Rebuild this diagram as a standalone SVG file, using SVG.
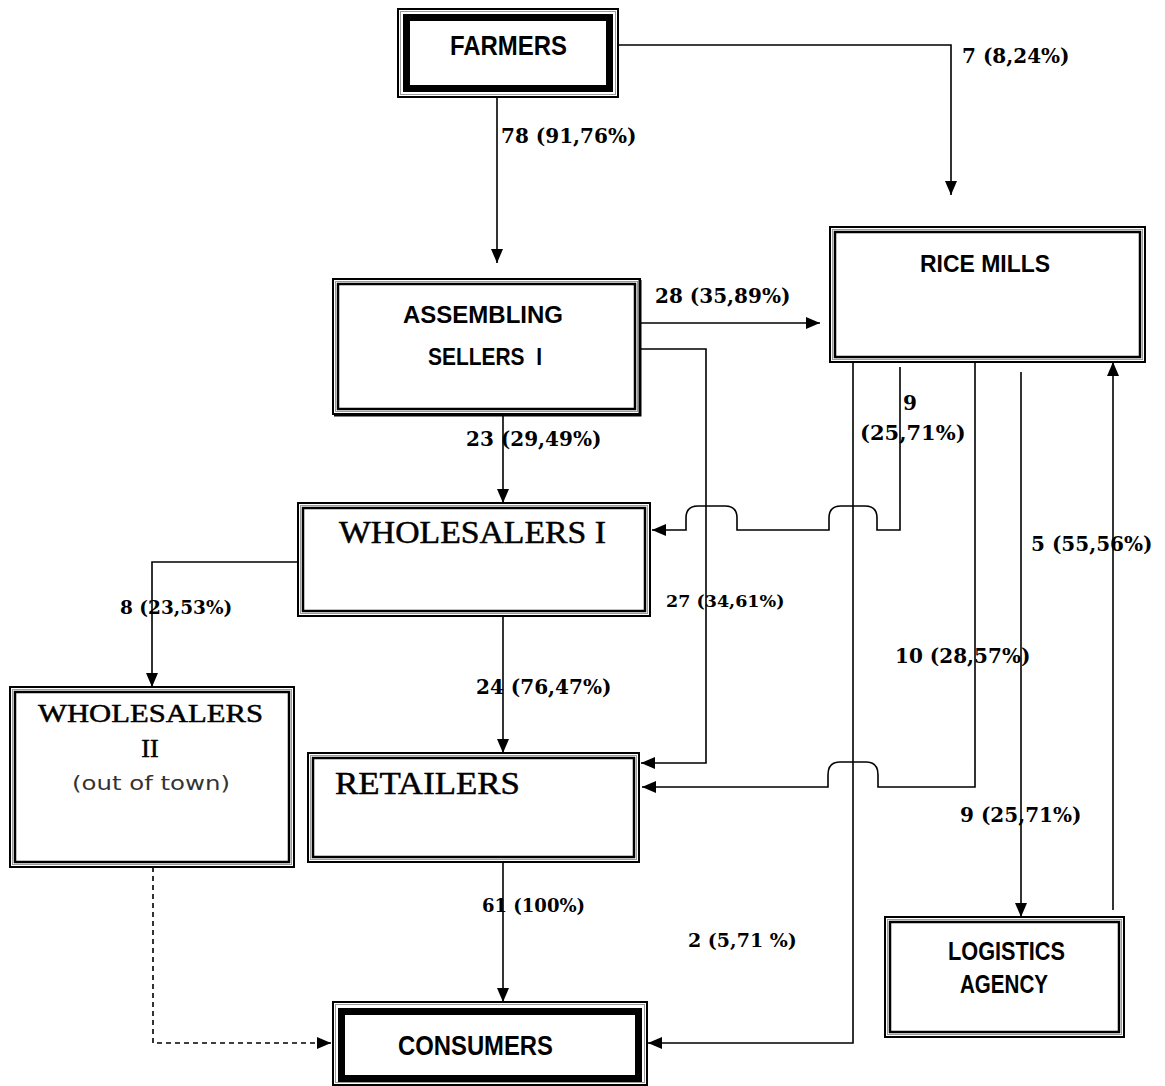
<svg xmlns="http://www.w3.org/2000/svg" width="1165" height="1086" viewBox="0 0 1165 1086">
<style>
.o{fill:#fff;stroke:#000;stroke-width:2}
.g{fill:none;stroke:#9a9a9a;stroke-width:1}
.i{fill:none;stroke:#000;stroke-width:2.5}
.ti{fill:none;stroke:#000;stroke-width:7}
.sb{font-family:"Liberation Sans",Arial,sans-serif;font-weight:bold;fill:#000}
.sr{font-family:"Liberation Serif","Times New Roman",serif;fill:#000;stroke:#000;stroke-width:0.5}
.lb{font-family:"DejaVu Serif",serif;font-weight:bold;font-size:20px;fill:#000}
.c{fill:none;stroke:#000;stroke-width:1.6}
.d{stroke-dasharray:5,4}
</style>
<defs>
<marker id="ah" markerUnits="userSpaceOnUse" markerWidth="15" markerHeight="13" refX="14" refY="6" orient="auto">
<path d="M0,0 L14,6 L0,12 z" fill="#000"/>
</marker>
</defs>
<rect width="1165" height="1086" fill="#fff"/>

<g id="connectors">
<path class="c" d="M497,97 V263" marker-end="url(#ah)"/>
<path class="c" d="M618,45 H951 V195" marker-end="url(#ah)"/>
<path class="c" d="M640,323 H820" marker-end="url(#ah)"/>
<path class="c" d="M640,349 H706 V763 H641" marker-end="url(#ah)"/>
<path class="c" d="M503,404 V503" marker-end="url(#ah)"/>
<path class="c" d="M900,367 V530 H877 V518 Q877,506 865,506 H841 Q829,506 829,518 V530 H737 V518 Q737,506 725,506 H698 Q686,506 686,518 V530 H652" marker-end="url(#ah)"/>
<path class="c" d="M975,362 V787 H878 V775 Q878,762 866,762 H840 Q828,762 828,775 V787 H642" marker-end="url(#ah)"/>
<path class="c" d="M853,362 V1043 H648" marker-end="url(#ah)"/>
<path class="c" d="M1021,372 V917" marker-end="url(#ah)"/>
<path class="c" d="M1113,910 V362" marker-end="url(#ah)"/>
<path class="c" d="M298,562 H152 V687" marker-end="url(#ah)"/>
<path class="c" d="M503,597 V753" marker-end="url(#ah)"/>
<path class="c" d="M503,857 V1002" marker-end="url(#ah)"/>
<path class="c d" d="M153,867 V1043 H331" marker-end="url(#ah)"/>
</g>

<g id="labels">
<text class="lb" x="501" y="143">78 (91,76%)</text>
<text class="lb" x="962" y="63">7 (8,24%)</text>
<text class="lb" x="655" y="303">28 (35,89%)</text>
<text class="lb" x="466" y="446">23 (29,49%)</text>
<text class="lb" x="903" y="410">9</text>
<text class="lb" x="860" y="440" style="font-size:21px">(25,71%)</text>
<text class="lb" x="666" y="607" style="font-size:17.5px">27 (34,61%)</text>
<text class="lb" x="1031" y="551">5 (55,56%)</text>
<text class="lb" x="120" y="614" style="font-size:18.5px">8 (23,53%)</text>
<text class="lb" x="895" y="663">10 (28,57%)</text>
<text class="lb" x="476" y="694">24 (76,47%)</text>
<text class="lb" x="960" y="822">9 (25,71%)</text>
<text class="lb" x="482" y="912" style="font-size:18px">61 (100%)</text>
<text class="lb" x="688" y="947" style="font-size:19px">2 (5,71 %)</text>
</g>

<g id="farmers">
<rect class="o" x="398" y="9" width="220" height="88"/>
<rect class="g" x="400.5" y="11.5" width="215" height="83"/>
<rect class="ti" x="406.5" y="17.5" width="203" height="71"/>
<text class="sb" x="450" y="55" font-size="28" textLength="117" lengthAdjust="spacingAndGlyphs">FARMERS</text>
</g>

<g id="assembling">
<rect class="o" x="333" y="279" width="307" height="135"/>
<path d="M640,280 V415 H334" fill="none" stroke="#000" stroke-width="3"/>
<rect class="g" x="335.5" y="281.5" width="302" height="130"/>
<rect class="i" x="338" y="284" width="297" height="125"/>
<text class="sb" x="403" y="323" font-size="24" textLength="160" lengthAdjust="spacingAndGlyphs">ASSEMBLING</text>
<text class="sb" x="428" y="365" font-size="24" textLength="114" lengthAdjust="spacingAndGlyphs" style="white-space:pre">SELLERS  I</text>
</g>

<g id="rice-mills">
<rect class="o" x="830" y="227" width="315" height="135"/>
<rect class="g" x="832.5" y="229.5" width="310" height="130"/>
<rect class="i" x="835" y="232" width="305" height="125"/>
<text class="sb" x="920" y="272" font-size="24" textLength="130" lengthAdjust="spacingAndGlyphs">RICE MILLS</text>
</g>

<g id="wholesalers-1">
<rect class="o" x="298" y="503" width="352" height="113"/>
<rect class="g" x="300.5" y="505.5" width="347" height="108"/>
<rect class="i" x="303" y="508" width="342" height="103"/>
<text class="sr" x="339" y="543" font-size="31" textLength="267" lengthAdjust="spacingAndGlyphs">WHOLESALERS I</text>
</g>

<g id="wholesalers-2">
<rect class="o" x="10" y="687" width="284" height="180"/>
<rect class="g" x="12.5" y="689.5" width="279" height="175"/>
<rect class="i" x="15" y="692" width="274" height="170"/>
<text class="sr" x="38" y="722" font-size="26" textLength="225" lengthAdjust="spacingAndGlyphs">WHOLESALERS</text>
<text class="sr" x="150" y="757" font-size="26" text-anchor="middle">II</text>
<text x="72" y="790" font-family="'DejaVu Sans',sans-serif" font-size="20" fill="#333" textLength="158" lengthAdjust="spacingAndGlyphs">(out of town)</text>
</g>

<g id="retailers">
<rect class="o" x="308" y="753" width="331" height="109"/>
<rect class="g" x="310.5" y="755.5" width="326" height="104"/>
<rect class="i" x="313" y="758" width="321" height="99"/>
<text class="sr" x="335" y="794" font-size="31" textLength="185" lengthAdjust="spacingAndGlyphs">RETAILERS</text>
</g>

<g id="consumers">
<rect class="o" x="333" y="1002" width="314" height="83"/>
<rect class="g" x="335.5" y="1004.5" width="309" height="78"/>
<rect class="ti" x="341.5" y="1011.5" width="297" height="67"/>
<text class="sb" x="398" y="1055" font-size="27" textLength="155" lengthAdjust="spacingAndGlyphs">CONSUMERS</text>
</g>

<g id="logistics">
<rect class="o" x="885" y="917" width="239" height="120"/>
<rect class="g" x="887.5" y="919.5" width="234" height="115"/>
<rect class="i" x="890" y="922" width="229" height="110"/>
<text class="sb" x="948" y="960" font-size="25" textLength="117" lengthAdjust="spacingAndGlyphs">LOGISTICS</text>
<text class="sb" x="960" y="993" font-size="25" textLength="88" lengthAdjust="spacingAndGlyphs">AGENCY</text>
</g>
</svg>
